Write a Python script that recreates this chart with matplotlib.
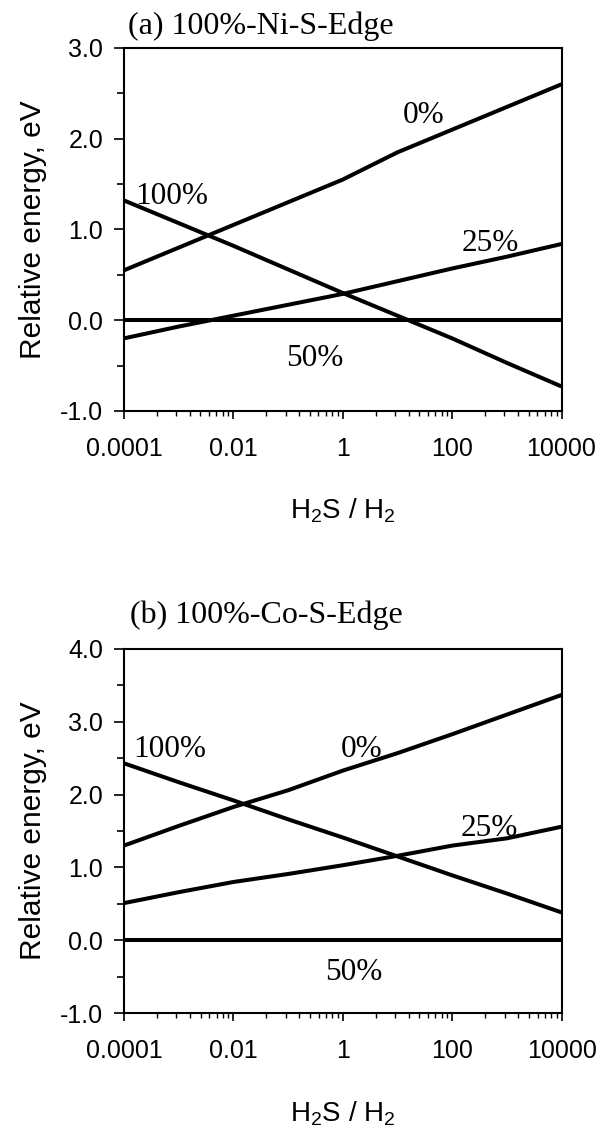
import numpy as np
import matplotlib
matplotlib.use("Agg")
import matplotlib.pyplot as plt
from matplotlib.ticker import FixedLocator, FixedFormatter

plt.rcParams['font.family'] = ['Liberation Sans', 'DejaVu Sans']
plt.rcParams['mathtext.fontset'] = 'custom'
plt.rcParams['mathtext.rm'] = 'Liberation Sans'
plt.rcParams['mathtext.it'] = 'Liberation Sans:italic'

# H2S/H2 ratio, one point per decade
ratio = [1e-4, 1e-3, 1e-2, 1e-1, 1, 10, 100, 1000, 1e4]

# (a) 100%-Ni-S-Edge
ni_0 = [0.55, 0.80, 1.05, 1.30, 1.55, 1.85, 2.10, 2.35, 2.60]
ni_25 = [-0.20, -0.07, 0.05, 0.17, 0.29, 0.43, 0.57, 0.70, 0.84]
ni_50 = [0.0] * 9
ni_100 = [1.32, 1.07, 0.82, 0.56, 0.30, 0.05, -0.20, -0.47, -0.73]

# (b) 100%-Co-S-Edge
co_0 = [1.30, 1.57, 1.83, 2.06, 2.33, 2.57, 2.83, 3.10, 3.37]
co_25 = [0.51, 0.66, 0.80, 0.91, 1.03, 1.16, 1.30, 1.40, 1.56]
co_50 = [0.0] * 9
co_100 = [2.43, 2.17, 1.92, 1.66, 1.41, 1.15, 0.89, 0.64, 0.38]

series_labels = ['0%', '25%', '50%', '100%']

# label anchor points (ratio, energy) for each curve
ni_label_pos = [(10**1.47, 2.26), (10**2.7, 0.84), (10**-0.51, -0.42), (10**-3.12, 1.36)]
co_label_pos = [(10**0.34, 2.62), (10**2.68, 1.53), (10**0.2, -0.44), (10**-3.16, 2.62)]

x_major = [1e-4, 1e-2, 1, 100, 1e4]
x_major_labels = ['0.0001', '0.01', '1', '100', '10000']


def style_axes(ax, ymin, ymax):
    ax.set_xscale('log')
    ax.set_xlim(1e-4, 1e4)
    ax.set_ylim(ymin, ymax)
    ax.xaxis.set_major_locator(FixedLocator(x_major))
    ax.xaxis.set_major_formatter(FixedFormatter(x_major_labels))
    minors = [b * k * k for b in x_major[:-1] for k in range(2, 10)]
    ax.xaxis.set_minor_locator(FixedLocator(minors))
    ax.xaxis.set_minor_formatter(FixedFormatter([''] * len(minors)))
    yt = np.arange(ymin, ymax + 0.01, 1.0)
    ax.set_yticks(yt)
    ax.set_yticklabels(['%.1f' % v for v in yt])
    ax.set_yticks(np.arange(ymin + 0.5, ymax, 1.0), minor=True)
    ax.tick_params(axis='both', direction='out', width=1.2, labelsize=18, color='black')
    ax.tick_params(axis='x', which='major', length=5.8, pad=13)
    ax.tick_params(axis='x', which='minor', length=3.6, width=1.0)
    ax.tick_params(axis='y', which='major', length=7, pad=8)
    ax.tick_params(axis='y', which='minor', length=5, width=1.2)
    for s in ax.spines.values():
        s.set_linewidth(1.5)
    ax.set_ylabel('Relative energy, eV', fontsize=21.5)
    ax.yaxis.set_label_coords(-0.175, 0.5)
    ax.set_xlabel(r'H$_\mathregular{2}$S / H$_\mathregular{2}$', fontsize=20, va='top')
    ax.xaxis.set_label_coords(0.5, -0.237)


def draw_panel(ax, curves, label_pos, ymin, ymax):
    for y in curves:
        ax.plot(ratio, y, color='black', lw=2.9, solid_capstyle='butt', clip_on=False)
    for txt, (x, y) in zip(series_labels, label_pos):
        ax.text(x, y, txt, fontsize=22.5, family='Liberation Serif', ha='center', va='center')
    style_axes(ax, ymin, ymax)


fig = plt.figure(figsize=(6.01, 11.29), dpi=100)
ax1 = fig.add_axes([0.2063, 0.6360, 0.7280, 0.3215])
ax2 = fig.add_axes([0.2063, 0.1027, 0.7287, 0.3225])

draw_panel(ax1, [ni_0, ni_25, ni_50, ni_100], ni_label_pos, -1, 3)
draw_panel(ax2, [co_0, co_25, co_50, co_100], co_label_pos, -1, 4)

fig.text(128 / 601, 1 - 34 / 1129, '(a) 100%-Ni-S-Edge', fontsize=23,
         family='Liberation Serif', ha='left', va='baseline')
fig.text(130 / 601, 1 - 623 / 1129, '(b) 100%-Co-S-Edge', fontsize=23,
         family='Liberation Serif', ha='left', va='baseline')

fig.savefig('out.png', dpi=100)
